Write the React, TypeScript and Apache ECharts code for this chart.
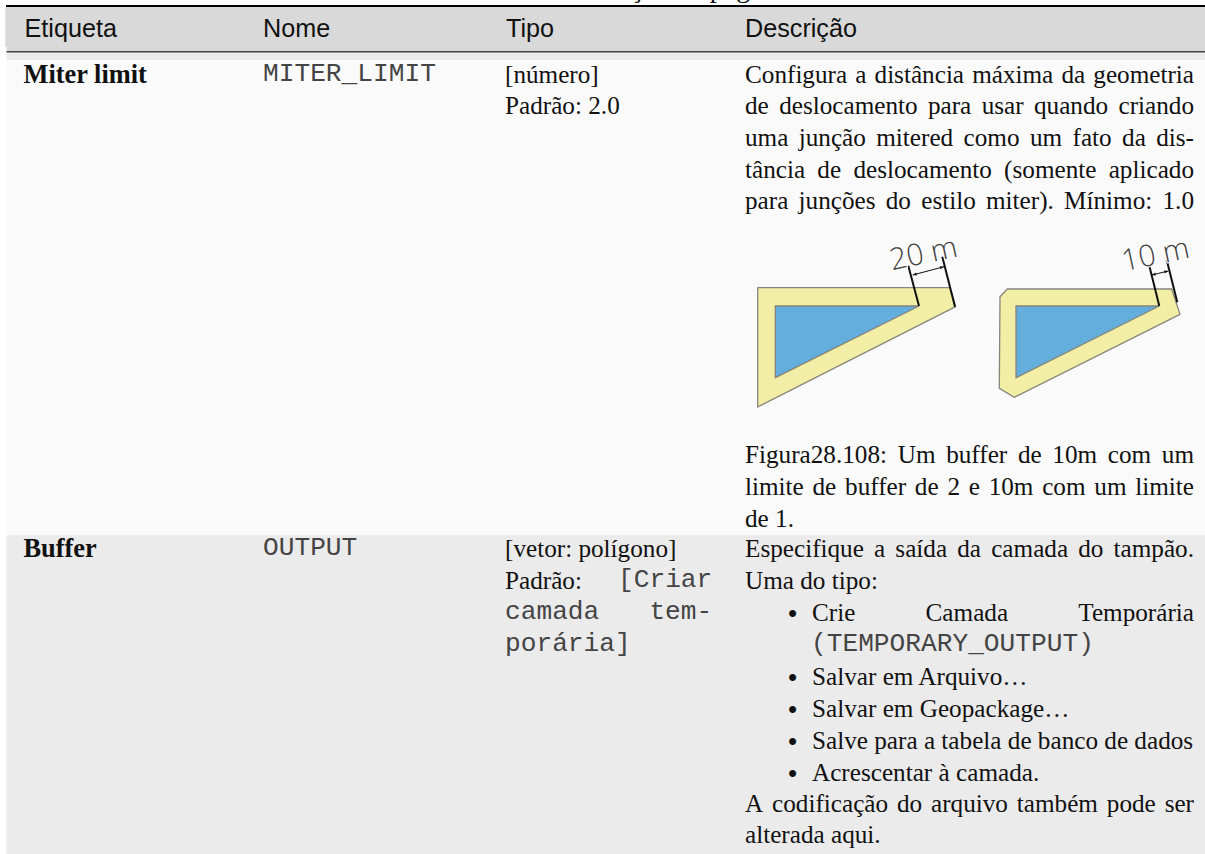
import React, { useEffect, useRef } from "react";
import * as echarts from "echarts";

const headers = ["Etiqueta", "Nome", "Tipo", "Descrição"];
const rowLabels = ["Miter limit", "Buffer"];
const rowNames = ["MITER_LIMIT", "OUTPUT"];
const topCaption = "continuação da página anterior";
const miterDesc = [
  "Configura a distância máxima da geometria",
  "de deslocamento para usar quando criando",
  "uma junção mitered como um fato da dis-",
  "tância de deslocamento (somente aplicado",
  "para junções do estilo miter). Mínimo: 1.0",
];
const caption = [
  "Figura28.108: Um buffer de 10m com um",
  "limite de buffer de 2 e 10m com um limite",
  "de 1.",
];
const bufferDescTop = ["Especifique a saída da camada do tampão.", "Uma do tipo:"];
const bullets = ["Salvar em Arquivo…", "Salvar em Geopackage…", "Salve para a tabela de banco de dados", "Acrescentar à camada."];
const bufferDescEnd = ["A codificação do arquivo também pode ser", "alterada aqui."];

const SERIF = '"Liberation Serif", serif';
const SANS = '"Liberation Sans", sans-serif';
const MONO = '"Liberation Mono", monospace';
const INK = "#111";
const MONO_INK = "#444444";
const FS = 25.2;
const MFS = 26.2;
const COL = { a: 23.5, b: 263, c: 505, d: 745, dEnd: 1194 };
const ROW1 = [82.7, 114.3, 146, 177.6, 209.2];
const CAP = [463, 494.5, 526.5];
const ROW2 = [557, 589, 621, 653, 685, 717, 749, 781, 812, 843];

function App() {
  const ref = useRef<HTMLDivElement>(null);
  useEffect(() => {
    document.body.style.margin = "0";
    const chart = echarts.init(ref.current!, null, { renderer: "svg" });
    const ctx = document.createElement("canvas").getContext("2d")!;
    const width = (s: string, font: string) => { ctx.font = font; return ctx.measureText(s).width; };
    const els: any[] = [];
    // y is the text baseline
    const txt = (s: string, x: number, y: number, o: any = {}) => {
      const fs = o.fs || FS;
      els.push({
        type: "text", x, y: y + 0.16 * fs, silent: true,
        style: { text: s, fontFamily: o.ff || SERIF, fontSize: fs, fontWeight: o.fw || "normal", fill: o.fill || INK, textVerticalAlign: "bottom", textAlign: "left" },
      });
    };
    const mono = (s: string, x: number, y: number) => txt(s, x, y, { ff: MONO, fs: MFS, fill: MONO_INK });
    const just = (s: string, x0: number, x1: number, y: number) => {
      const words = s.split(" ");
      const font = `${FS}px ${SERIF}`;
      const total = words.reduce((a, w) => a + width(w, font), 0);
      const gap = (x1 - x0 - total) / (words.length - 1);
      let x = x0;
      words.forEach((w) => { txt(w, x, y); x += width(w, font) + gap; });
    };
    const rect = (x: number, y: number, w: number, h: number, fill: string) => els.push({ type: "rect", silent: true, shape: { x, y, width: w, height: h }, style: { fill } });
    const poly = (pts: number[][], fill: string) => els.push({ type: "polygon", silent: true, shape: { points: pts }, style: { fill, stroke: "#85857a", lineWidth: 1.3 } });
    const line = (a: number[], b: number[], w: number, c = "#111") => els.push({ type: "line", silent: true, shape: { x1: a[0], y1: a[1], x2: b[0], y2: b[1] }, style: { stroke: c, lineWidth: w } });
    const head = (tip: number[], from: number[]) => {
      const dx = tip[0] - from[0], dy = tip[1] - from[1], L = Math.hypot(dx, dy);
      const ux = dx / L, uy = dy / L;
      els.push({ type: "polygon", silent: true, shape: { points: [tip, [tip[0] - 4 * ux - 1.6 * uy, tip[1] - 4 * uy + 1.6 * ux], [tip[0] - 4 * ux + 1.6 * uy, tip[1] - 4 * uy - 1.6 * ux]] }, style: { fill: "#111" } });
    };
    const arrow = (a: number[], b: number[]) => { line(a, b, 1); head(a, b); head(b, a); };
    const label = (s: string, x: number, y: number) => els.push({
      type: "text", x, y, rotation: 12 * Math.PI / 180, silent: true,
      style: { text: s, fontFamily: '"Open Sans", sans-serif', fontWeight: 300, fontSize: 30, fill: "#444", stroke: "#fff", lineWidth: 2, textAlign: "center", textVerticalAlign: "middle" },
    });

    txt(topCaption, 534, -3, { fs: 28 });
    rect(6.5, 5, 1198.5, 849, "#fafafa");
    rect(5.3, 7, 1199.7, 40, "#d9d9d9");
    rect(6.5, 47, 1198.5, 5, "#d9d9d9");
    rect(6.5, 52, 1198.5, 8, "#ebebeb");
    rect(6.5, 535, 1198.5, 319, "#ebebeb");
    rect(6, 5, 1199, 2, "#000");
    rect(6.5, 51, 1198.5, 1.4, "#444");

    const hx = [24.5, COL.b, COL.c + 1, COL.d];
    headers.forEach((h, i) => txt(h, hx[i], 36.5, { ff: SANS }));

    txt(rowLabels[0], COL.a, ROW1[0], { fw: "bold", fs: 26.4 });
    mono(rowNames[0], COL.b, ROW1[0]);
    txt("[número]", COL.c, ROW1[0]);
    txt("Padrão: 2.0", COL.c, ROW1[1]);
    miterDesc.forEach((s, i) => just(s, COL.d, COL.dEnd, ROW1[i]));

    // left figure
    poly([[757.7, 287.7], [950, 287.7], [955.7, 306.7], [757.7, 407]], "#f3eea6");
    poly([[775.3, 306], [919, 306], [775.3, 377.7]], "#64aede");
    line([908.3, 265.7], [919, 306], 2);
    line([942.3, 256.7], [955, 306.7], 2);
    arrow([912.7, 275], [944, 266.7]);
    label("20 m", 923, 252);
    // right figure
    poly([[1000, 296.7], [1007.3, 289], [1171.7, 289], [1180, 314.3], [1014.3, 397.3], [999.3, 388.3]], "#f3eea6");
    poly([[1016, 306], [1159.3, 306], [1016, 377.7]], "#64aede");
    line([1149.3, 265.7], [1159.3, 306], 2);
    line([1166.7, 260], [1177.3, 302.3], 2);
    arrow([1151.7, 275], [1168.3, 271]);
    label("10 m", 1155, 253);

    caption.forEach((s, i) => {
      if (i < 2) just(s, COL.d, COL.dEnd, CAP[i]); else txt(s, COL.d, CAP[i]);
    });

    txt(rowLabels[1], COL.a, ROW2[0], { fw: "bold", fs: 26.4 });
    mono(rowNames[1], COL.b, ROW2[0]);
    txt("[vetor: polígono]", COL.c, ROW2[0]);
    txt("Padrão:", COL.c, ROW2[1]);
    mono("[Criar", 618, ROW2[1]);
    mono("camada", COL.c, ROW2[2]);
    mono("tem-", 649.4, ROW2[2]);
    mono("porária]", COL.c, ROW2[3]);

    just(bufferDescTop[0], COL.d, COL.dEnd, ROW2[0]);
    txt(bufferDescTop[1], COL.d, ROW2[1]);
    const bullet = (y: number) => txt("•", 787.5, y + 2.5, { fs: 29 });
    bullet(ROW2[2]);
    just("Crie Camada Temporária", 812, COL.dEnd, ROW2[2]);
    mono("(TEMPORARY_OUTPUT)", 811, ROW2[3]);
    bullets.forEach((s, i) => {
      bullet(ROW2[4 + i]);
      txt(s, 812, ROW2[4 + i]);
    });
    bufferDescEnd.forEach((s, i) => {
      if (i === 0) just(s, COL.d, COL.dEnd, ROW2[8]); else txt(s, COL.d, ROW2[9]);
    });

    chart.setOption({ animation: false, graphic: { elements: els } });
    return () => chart.dispose();
  }, []);
  return <div ref={ref} style={{ position: "absolute", left: 0, top: 0, width: 1205, height: 854 }} />;
}

export default App;
